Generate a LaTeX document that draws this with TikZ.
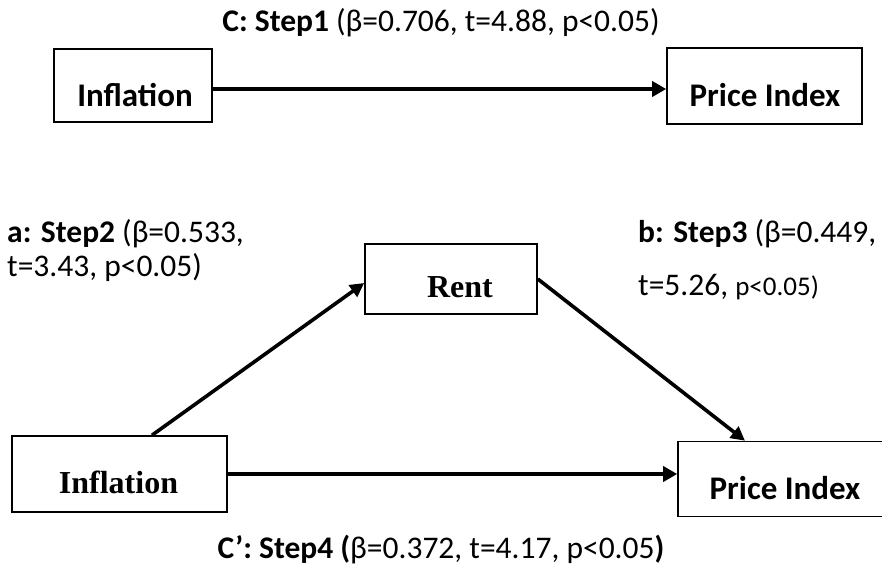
\documentclass[tikz,border=0pt]{standalone}
\usepackage{fontspec}
\setmainfont{Carlito}
\newfontfamily\tnr{Liberation Serif}
\usetikzlibrary{arrows.meta}
\begin{document}
\begin{tikzpicture}[x=1pt,y=-1pt,
  box/.style={draw, line width=1.6pt, inner sep=0pt},
  lbl/.style={font=\fontsize{31.5}{37}\selectfont, inner sep=0pt},
  btxt/.style={font=\fontsize{33}{39}\selectfont\bfseries, inner sep=0pt},
  ttxt/.style={font=\fontsize{32}{38}\selectfont\tnr\bfseries, inner sep=0pt},
  harr/.style={line width=4.5pt, -{Triangle[length=14pt,width=15pt]}},
  darr/.style={line width=3.6pt, -{Triangle[length=14pt,width=14pt]}}]
\useasboundingbox (0,0) rectangle (882,569);
\clip (0,0) rectangle (882,569);
% boxes
\node[box, minimum width=158pt, minimum height=73pt] (inf1) at (133,85.5) {};
\node[box, minimum width=195pt, minimum height=76pt] (pi1) at (764.5,86) {};
\node[box, minimum width=172pt, minimum height=70pt] (rent) at (451,279) {};
\node[box, minimum width=215pt, minimum height=76pt] (inf2) at (119.5,474) {};
\node[box, minimum width=210pt, minimum height=75pt] (pi2) at (783,479) {};
% box texts
\node[btxt, anchor=base] (inf1t) at (135,107) {Inflation};
\node[btxt, anchor=base] (pi1t) at (765,107) {Price Index};
\node[ttxt, anchor=base] (rentt) at (460,297) {Rent};
\node[ttxt, anchor=base] (inf2t) at (118.5,493) {Inflation};
\node[btxt, anchor=base] (pi2t) at (785,499) {Price Index};
% labels
\node[lbl, anchor=base] (c1) at (441,32) {\textbf{C: Step1} (β=0.706, t=4.88, p<0.05)};
\node[lbl, anchor=base west] (a1) at (7,242) {\textbf{a: Step2} (β=0.533,};
\node[lbl, anchor=base west] (a2) at (7,276) {t=3.43, p<0.05)};
\node[lbl, anchor=base west] (b1) at (638,242) {\textbf{b: Step3} (β=0.449,};
\node[lbl, anchor=base west] (b2) at (638,295) {t=5.26, {\fontsize{27}{32}\selectfont p<0.05)}};
\node[lbl, anchor=base] (c2) at (441,558) {\textbf{C’: Step4 (}β=0.372, t=4.17, p<0.05\textbf{)}};
% arrows
\coordinate (s1) at ([yshift=-3.5pt]inf1.east);
\draw[harr] (s1) -- (s1 -| pi1.west);
\draw[darr] ([xshift=32.5pt]inf2.north) -- ([yshift=-4pt]rent.west);
\draw[darr] (rent.east) -- ([xshift=-38pt]pi2.north);
\draw[harr] (inf2.east) -- (inf2.east -| pi2.west);
\end{tikzpicture}
\end{document}
